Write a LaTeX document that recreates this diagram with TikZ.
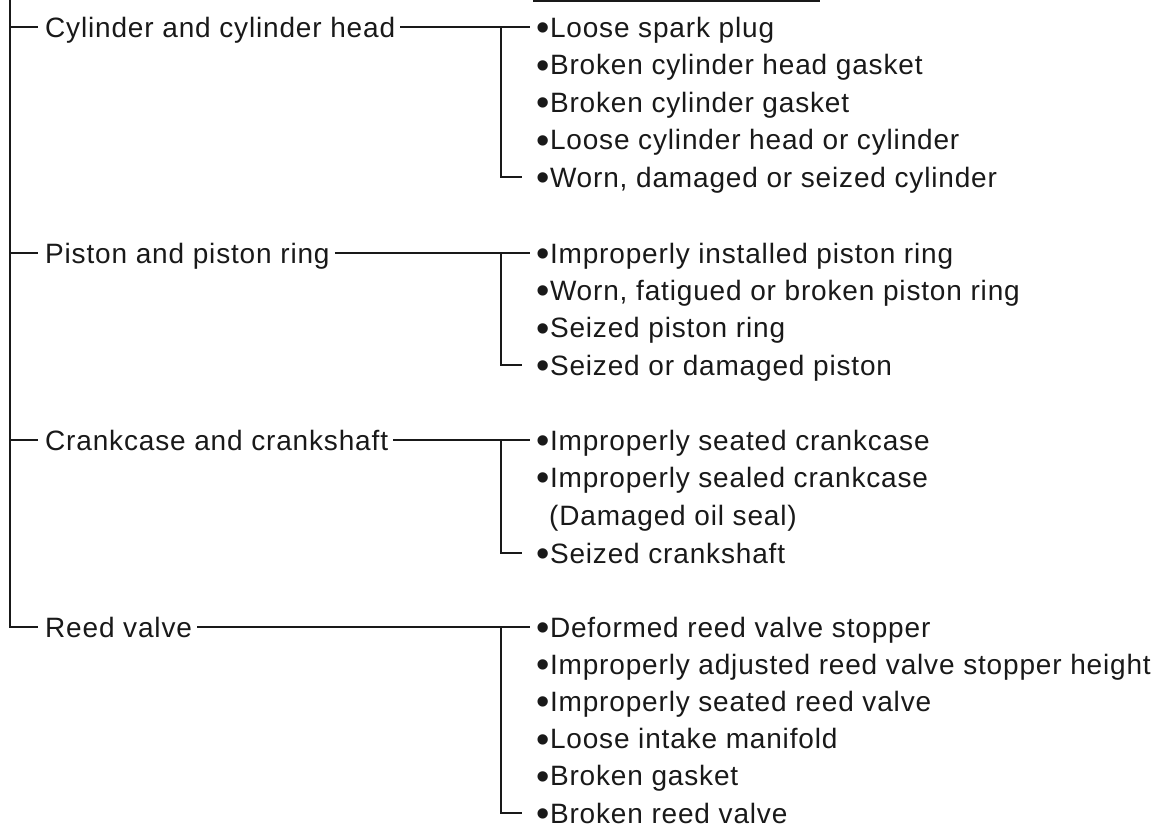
\documentclass[tikz,border=0pt]{standalone}
\usepackage{fontspec}
\setmainfont{Liberation Sans}[LetterSpace=3]
\usetikzlibrary{positioning}
\newcommand{\causebul}{\raisebox{-3.5pt}[0pt][0pt]{\fontsize{38}{38}\selectfont\textbullet}\kern0.5pt}

\begin{document}
\begin{tikzpicture}[x=1pt, y=-1pt,
    every node/.style={font=\fontsize{28}{30}\selectfont, text=black!90, inner sep=0pt, anchor=base west},
    wire/.style={line width=1.9pt, black!90}]
  \useasboundingbox (0,0) rectangle (1173,831);
  % ---------- HEADING RULE (cut off) ----------
  \draw[wire] (533,1) -- (820,1);
  % ---------- GROUPS ----------
  \node (cyl) at (45,37) {Cylinder and cylinder head};
  \node (pist) at (45,263) {Piston and piston ring};
  \node (crank) at (45,450) {Crankcase and crankshaft};
  \node (reed) at (45,637) {Reed valve};
  % ---------- CAUSES ----------
  \foreach \t [count=\i] in {Loose spark plug, Broken cylinder head gasket, Broken cylinder gasket,
      Loose cylinder head or cylinder, {Worn, damaged or seized cylinder}}
    \node (c\i) at (536,{37.5*\i-0.5}) {\causebul\t};
  \foreach \t [count=\i] in {Improperly installed piston ring, {Worn, fatigued or broken piston ring},
      Seized piston ring, Seized or damaged piston}
    \node (p\i) at (536,{263+37.4*(\i-1)}) {\causebul\t};
  \node (k1) at (536,450) {\causebul Improperly seated crankcase};
  \node (k2) at (536,487) {\causebul Improperly sealed crankcase};
  \node (k2b) at (549,525) {(Damaged oil seal)};
  \node (k3) at (536,563) {\causebul Seized crankshaft};
  \foreach \t [count=\i] in {Deformed reed valve stopper, Improperly adjusted reed valve stopper height,
      Improperly seated reed valve, Loose intake manifold, Broken gasket, Broken reed valve}
    \node (r\i) at (536,{637+37.2*(\i-1)}) {\causebul\t};
  % ---------- TRUNK ----------
  \coordinate (top) at (10,0);
  \coordinate (cylm) at ([yshift=10pt]cyl.base west);
  \coordinate (pistm) at ([yshift=10pt]pist.base west);
  \coordinate (crankm) at ([yshift=10pt]crank.base west);
  \coordinate (reedm) at ([yshift=10pt]reed.base west);
  \draw[wire] (top) |- ([xshift=-7pt]reedm);
  \foreach \g in {cylm,pistm,crankm}
    \draw[wire] (top |- \g) -- ([xshift=-7pt]\g);
  % ---------- BRANCHES ----------
  \foreach \g/\a/\b in {cyl/c1/c5, pist/p1/p4, crank/k1/k3, reed/r1/r6} {
    \draw[wire] ([xshift=5pt,yshift=10pt]\g.base east) -- ([xshift=-6pt,yshift=10pt]\a.base west);
    \draw[wire] ([xshift=-35pt,yshift=10pt]\a.base west) |- ([xshift=-14pt,yshift=10pt]\b.base west);
  }
\end{tikzpicture}
\end{document}
